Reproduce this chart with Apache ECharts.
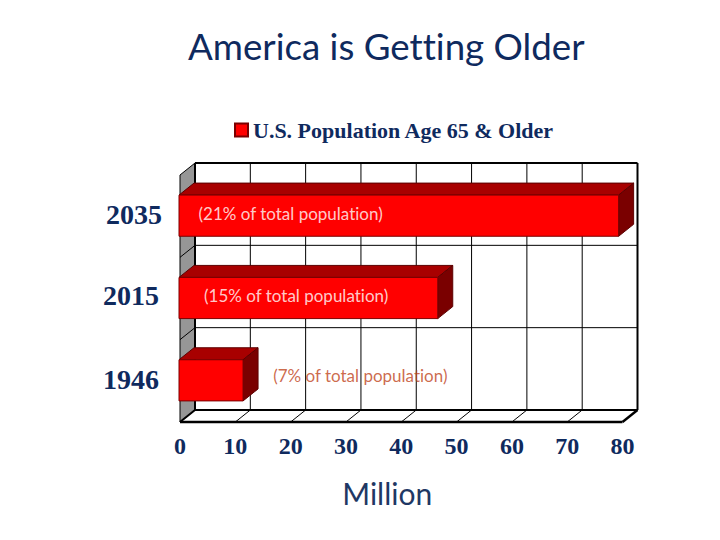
<!DOCTYPE html>
<html>
<head>
<meta charset="utf-8">
<style>html,body{margin:0;padding:0;background:#fff}#c{width:720px;height:540px}svg text{font-variant-ligatures:none}</style>
<script src="https://cdn.jsdelivr.net/npm/echarts@6/dist/echarts.min.js"></script>
</head>
<body>
<div id="c"></div>
<script>
const titleText = 'America is Getting Older';
const seriesName = 'U.S. Population Age 65 & Older';
const axisName = 'Million';
const categories = ['1946', '2015', '2035'];
const values = [11.4, 46.6, 79.3];
const notes = ['(7% of total population)', '(15% of total population)', '(21% of total population)'];
const noteAt = [32.6, 21, 20];
const noteColors = ['#c0451c', '#ffffff', '#ffffff'];
const xTicks = [0, 10, 20, 30, 40, 50, 60, 70, 80];

const DX = 15, DY = -12;
const navy = '#0f2a5e';
const chart = echarts.init(document.getElementById('c'), null, { renderer: 'svg' });

function line(x1, y1, x2, y2, w) {
  return { type: 'line', shape: { x1, y1, x2, y2 }, style: { stroke: '#000', lineWidth: w }, silent: true };
}
function poly(points, fill, stroke) {
  return { type: 'polygon', shape: { points }, style: { fill, stroke, lineWidth: 1 }, silent: true };
}

function renderWalls(params, api) {
  const band = api.size([0, 1])[1];
  const x0 = api.coord([0, 0])[0];
  const x1 = api.coord([80, 0])[0];
  const bottom = api.coord([0, 0])[1] + band / 2;
  const top = api.coord([0, categories.length - 1])[1] - band / 2;
  const kids = [];
  kids.push(poly([[x0, top], [x0 + DX, top + DY], [x0 + DX, bottom + DY], [x0, bottom]], '#969696', '#000'));
  for (let i = 1; i < categories.length; i++) {
    const y = bottom - band * i;
    kids.push(line(x0 + DX, y + DY, x1 + DX, y + DY, 1));
    kids.push(line(x0, y, x0 + DX, y + DY, 1));
  }
  xTicks.slice(1, -1).forEach(t => {
    const x = api.coord([t, 0])[0];
    kids.push(line(x + DX, top + DY, x + DX, bottom + DY, 1));
    kids.push(line(x, bottom, x + DX, bottom + DY, 1));
  });
  kids.push(line(x0 + DX, top + DY, x1 + DX, top + DY, 2));
  kids.push(line(x1 + DX, top + DY, x1 + DX, bottom + DY, 2));
  kids.push(line(x0 + DX, top + DY, x0 + DX, bottom + DY, 2));
  kids.push(line(x0 + DX, bottom + DY, x1 + DX, bottom + DY, 2));
  kids.push(line(x0, bottom, x1, bottom, 2.5));
  kids.push(line(x1, bottom, x1 + DX, bottom + DY, 2.5));
  kids.push(line(x0, bottom, x0 + DX, bottom + DY, 2));
  return { type: 'group', children: kids };
}

function renderBar(params, api) {
  const end = api.coord([api.value(0), api.value(1)]);
  const start = api.coord([0, api.value(1)]);
  const h = api.size([0, 1])[1] * 0.5;
  const t = end[1] - h / 2 - 0.5, b = end[1] + h / 2 - 0.5;
  const l = start[0] - 1, r = end[0];
  return {
    type: 'group',
    children: [
      poly([[l, t], [l + DX, t + DY], [r + DX, t + DY], [r, t]], '#a80000', '#5c0000'),
      poly([[r, t], [r + DX, t + DY], [r + DX, b + DY], [r, b]], '#7a0000', '#5c0000'),
      poly([[l, t], [r, t], [r, b], [l, b]], '#ff0000', '#7a0000')
    ]
  };
}

chart.setOption({
  animation: false,
  backgroundColor: '#ffffff',
  title: {
    text: titleText, left: 183, top: 22,
    textStyle: { fontFamily: 'Lato', fontSize: 36.7, fontWeight: 'normal', color: navy }
  },
  legend: {
    data: [seriesName], left: 229, top: 114, icon: 'rect', itemWidth: 13, itemHeight: 13, itemGap: 6,
    textStyle: { fontFamily: 'Liberation Serif', fontWeight: 'bold', fontSize: 22, color: navy },
    selectedMode: false
  },
  grid: { left: 180, width: 442.5, top: 175, height: 247 },
  xAxis: {
    type: 'value', min: 0, max: 80, interval: 10,
    axisLine: { show: false }, axisTick: { show: false }, splitLine: { show: false },
    axisLabel: { margin: 12, fontFamily: 'Liberation Serif', fontWeight: 'bold', fontSize: 24, color: navy },
    name: axisName, nameLocation: 'middle', nameGap: 56,
    nameTextStyle: { fontFamily: 'Lato', fontSize: 30, color: '#1f3864', padding: [0, 28, 0, 0] }
  },
  yAxis: {
    type: 'category',
    data: categories.map((c, i) => ({ value: c, textStyle: { padding: [0, i === 2 ? 0 : 3, 0, 0], verticalAlign: 'bottom', lineHeight: [2, 6, 4][i] } })),
    axisLine: { show: false }, axisTick: { show: false }, splitLine: { show: false },
    axisLabel: { margin: 18, fontFamily: 'Liberation Serif', fontWeight: 'bold', fontSize: 28, color: navy }
  },
  series: [
    { name: 'walls', type: 'custom', renderItem: renderWalls, data: [[0, 0]], z: 1, silent: true,
      encode: { x: 0, y: 1 } },
    { name: seriesName, type: 'custom', renderItem: renderBar, z: 2, silent: true,
      itemStyle: { color: '#ff0000', borderColor: '#7a0000', borderWidth: 1 },
      encode: { x: 0, y: 1 },
      data: values.map((v, i) => [v, i]) },
    { name: 'notes', type: 'scatter', symbolSize: 0, z: 3, silent: true,
      data: notes.map((n, i) => ({
        value: [noteAt[i], i],
        label: { show: true, position: 'inside', offset: [0, i === 2 ? -3 : (i === 1 ? -3 : -5)], formatter: n,
          fontFamily: 'Lato', fontSize: 17, color: noteColors[i] }
      })) }
  ]
});
</script>
</body>
</html>
